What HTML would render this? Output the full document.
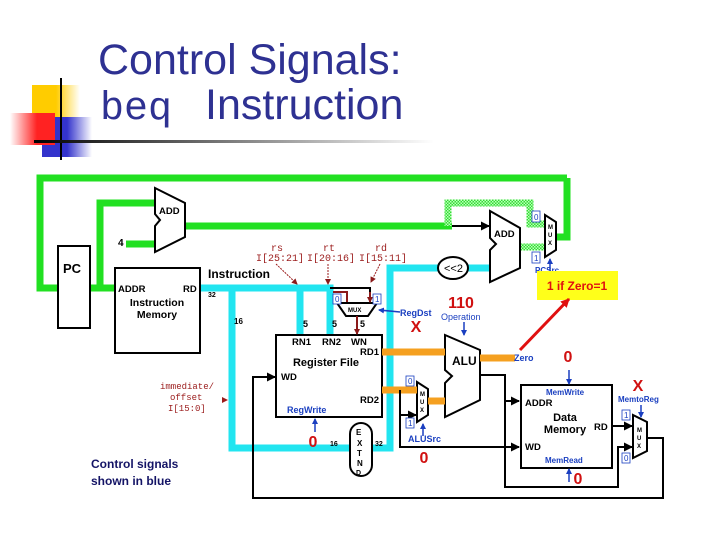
<!DOCTYPE html>
<html><head><meta charset="utf-8"><style>
html,body{margin:0;padding:0;background:#fff;}
svg{display:block;font-family:"Liberation Sans",sans-serif;}
.m{font-family:"Liberation Mono","DejaVu Sans Mono",monospace;}
</style></head><body>
<svg width="720" height="540" viewBox="0 0 720 540" xmlns="http://www.w3.org/2000/svg">
<defs>
<linearGradient id="hl" x1="0" x2="1"><stop offset="0" stop-color="#000"/><stop offset="1" stop-color="#fff"/></linearGradient>
<linearGradient id="rg" x1="0" x2="1"><stop offset="0" stop-color="#fff"/><stop offset="0.6" stop-color="#f22"/></linearGradient>
<linearGradient id="bg" x1="0" x2="1"><stop offset="0.5" stop-color="#33c"/><stop offset="1" stop-color="#fff"/></linearGradient>
<linearGradient id="yg" x1="0" x2="1"><stop offset="0.5" stop-color="#fc0"/><stop offset="1" stop-color="#fff"/></linearGradient>
<pattern id="chk" width="3" height="3" patternUnits="userSpaceOnUse"><rect width="3" height="3" fill="#3d3"/><rect width="1.5" height="1.5" fill="#bfb"/><rect x="1.5" y="1.5" width="1.5" height="1.5" fill="#bfb"/></pattern>
<marker id="ab" markerUnits="userSpaceOnUse" markerWidth="9" markerHeight="9" refX="8" refY="4.5" orient="auto"><path d="M0,0 L9,4.5 L0,9z" fill="#000"/></marker>
<marker id="abl" markerUnits="userSpaceOnUse" markerWidth="6" markerHeight="6" refX="5" refY="3" orient="auto"><path d="M0,0 L6,3 L0,6z" fill="#1a3fc0"/></marker>
<marker id="ar" markerUnits="userSpaceOnUse" markerWidth="6" markerHeight="6" refX="5" refY="3" orient="auto"><path d="M0,0 L6,3 L0,6z" fill="#8b1a1a"/></marker>
<marker id="arr" markerUnits="userSpaceOnUse" markerWidth="9" markerHeight="9" refX="8" refY="4.5" orient="auto"><path d="M0,0 L9,4.5 L0,9z" fill="#e01010"/></marker>
</defs>
<rect x="32" y="85" width="48" height="34" fill="url(#yg)"/>
<rect x="42" y="117" width="50" height="40" fill="url(#bg)"/>
<rect x="10" y="113" width="45" height="32" fill="url(#rg)"/>
<line x1="61" y1="78" x2="61" y2="160" stroke="#000" stroke-width="2"/>
<rect x="34" y="140" width="400" height="3" fill="url(#hl)"/>
<text x="98" y="74" font-size="43" fill="#2e3192">Control Signals:</text>
<text x="100" y="119" font-size="40" class="m" fill="#2e3192">beq</text>
<text x="205" y="119" font-size="43" fill="#2e3192">Instruction</text>

<g stroke="#22e022" stroke-width="7" fill="none">
<path d="M567,178 H40 V288 H58"/>
<path d="M90,288 H115 M100,288 V203 H155"/>
<path d="M126,244 H155"/>
<path d="M185,226 H452"/>
<path d="M556,237 H567 V178"/>
</g>
<path d="M448,226 V203 H530 V224 H545 M520,247 H545" stroke="url(#chk)" stroke-width="7" fill="none"/>
<line x1="452" y1="226" x2="489" y2="226" stroke="#000" stroke-width="2" marker-end="url(#ab)"/>

<g stroke="#22e5f0" stroke-width="7" fill="none">
<path d="M200,288 H330 V335 M300,288 V335"/>
<path d="M232,288 V448 H350 M372,448 H390 V268 H438 M468,268 H490"/>
</g>

<g stroke="#000" stroke-width="2" fill="#fff">
<rect x="58" y="246" width="32" height="82"/>
<rect x="115" y="268" width="85" height="85"/>
<path d="M155,188 L185,203 L185,237 L155,252 L155,226 L160,220 L155,214 Z"/>
<path d="M490,211 L520,228 L520,268 L490,282 L490,250 L496,244 L490,238 Z"/>
<path d="M545,215 L556,222 L556,250 L545,257 Z"/>
<ellipse cx="453" cy="268" rx="15" ry="11"/>
<rect x="276" y="335" width="106" height="82"/>
<rect x="521" y="385" width="91" height="83"/>
<rect x="350" y="423" width="22" height="53" rx="11"/>
<path d="M417,382 L428,389 L428,415 L417,422 Z"/>
<path d="M633,415 L647,422 L647,451 L633,458 Z"/>
<path d="M337,303 H377 L368,316 H346 Z"/>
</g>
<g stroke="#000" stroke-width="2" fill="#fff"><path d="M445,335 L480,350 L480,400 L445,417 L445,383 L452,376 L445,370 Z"/></g>

<g stroke="#f5a020" stroke-width="7" fill="none">
<path d="M382,352 H445 M382,390 H417 M428,401 H445 M480,358 H515"/>
</g>

<g stroke="#000" stroke-width="2" fill="none">
<path d="M400,390 V447 H519" marker-end="url(#ab)"/>
<path d="M400,415 H416" marker-end="url(#ab)"/>
<path d="M480,375 H505 V487 H618 V447 H632" marker-end="url(#ab)"/>
<path d="M505,401 H519" marker-end="url(#ab)"/>
<path d="M612,426 H632" marker-end="url(#ab)"/>
<path d="M647,438 H663 V498 H253 V377 H275" marker-end="url(#ab)"/>
<path d="M330,288 H370 V303"/>
<path d="M333,292 H347 V302" stroke="#8b1a1a"/>
</g>
<line x1="370" y1="292" x2="370" y2="302" stroke="#8b1a1a" stroke-width="2" marker-end="url(#ar)"/>
<line x1="357" y1="316" x2="357" y2="334" stroke="#8b1a1a" stroke-width="2" marker-end="url(#ar)"/>

<g fill="#9b1c1c" font-size="10" class="m">
<text x="271" y="251">rs</text><text x="256" y="261">I[25:21]</text>
<text x="323" y="251">rt</text><text x="307" y="261">I[20:16]</text>
<text x="375" y="251">rd</text><text x="359" y="261">I[15:11]</text>
<text x="160" y="389" font-size="9">immediate/</text>
<text x="170" y="400" font-size="9">offset</text>
<text x="168" y="411" font-size="9">I[15:0]</text>
</g>
<g stroke="#9b1c1c" stroke-width="1" stroke-dasharray="2,1" fill="none">
<line x1="276" y1="264" x2="297" y2="284" marker-end="url(#ar)"/>
<line x1="328" y1="264" x2="328" y2="284" marker-end="url(#ar)"/>
<line x1="380" y1="264" x2="371" y2="282" marker-end="url(#ar)"/>
</g>
<path d="M222,397 L228,400 L222,403z" fill="#9b1c1c"/>

<g font-size="9.5" font-weight="bold" fill="#000">
<text x="63" y="273" font-size="13">PC</text>
<text x="159" y="214">ADD</text>
<text x="494" y="237">ADD</text>
<text x="118" y="246" font-size="10">4</text>
<text x="118" y="292">ADDR</text><text x="183" y="292">RD</text>
<text x="157" y="306" text-anchor="middle" font-size="10.5">Instruction</text>
<text x="157" y="318" text-anchor="middle" font-size="10.5">Memory</text>
<text x="208" y="278" font-size="12">Instruction</text>
<text x="208" y="297" font-size="7">32</text>
<text x="234" y="324" font-size="8">16</text>
<text x="303" y="327" font-size="9">5</text><text x="332" y="327" font-size="9">5</text><text x="360" y="327" font-size="9">5</text>
<text x="292" y="345">RN1</text><text x="322" y="345">RN2</text><text x="351" y="345">WN</text>
<text x="360" y="355">RD1</text>
<text x="326" y="366" text-anchor="middle" font-size="11">Register File</text>
<text x="281" y="380">WD</text>
<text x="360" y="403">RD2</text>
<text x="452" y="365" font-size="12">ALU</text>
<text x="444" y="272" font-size="11" font-weight="normal">&lt;&lt;2</text>
<text x="525" y="406">ADDR</text>
<text x="565" y="421" text-anchor="middle" font-size="11">Data</text>
<text x="565" y="433" text-anchor="middle" font-size="11">Memory</text>
<text x="594" y="430">RD</text>
<text x="525" y="450">WD</text>
<text x="330" y="446" font-size="7">16</text><text x="375" y="446" font-size="7">32</text>
<text x="356" y="435" font-size="8">E</text><text x="357" y="446" font-size="8">X</text><text x="357" y="456" font-size="8">T</text><text x="357" y="466" font-size="8">N</text><text x="356" y="475" font-size="7">D</text>
<text x="348" y="312" font-size="6">MUX</text>
<text x="548" y="229" font-size="6">M</text><text x="548" y="237" font-size="6">U</text><text x="548" y="245" font-size="6">X</text>
<text x="420" y="396" font-size="6">M</text><text x="420" y="404" font-size="6">U</text><text x="420" y="412" font-size="6">X</text>
<text x="637" y="432" font-size="6">M</text><text x="637" y="440" font-size="6">U</text><text x="637" y="448" font-size="6">X</text>
</g>
<g font-size="8" fill="#1a3fc0" stroke="#1a3fc0" stroke-width="0.8">
<rect x="532" y="211" width="8" height="11" fill="#fff"/><rect x="532" y="252" width="8" height="11" fill="#fff"/>
<rect x="333" y="294" width="8" height="10" fill="#fff"/><rect x="373" y="294" width="8" height="10" fill="#fff"/>
<rect x="406" y="376" width="8" height="10" fill="#fff"/><rect x="406" y="418" width="8" height="10" fill="#fff"/>
<rect x="622" y="410" width="8" height="10" fill="#fff"/><rect x="622" y="453" width="8" height="10" fill="#fff"/>
</g>
<g font-size="8" fill="#1a3fc0">
<text x="534" y="220">0</text><text x="534" y="261">1</text>
<text x="335" y="302">0</text><text x="375" y="302">1</text>
<text x="408" y="384">0</text><text x="408" y="426">1</text>
<text x="624" y="418">1</text><text x="624" y="461">0</text>
</g>

<g stroke="#1a3fc0" stroke-width="1.5" fill="none">
<line x1="550" y1="272" x2="550" y2="259" marker-end="url(#abl)"/>
<line x1="400" y1="312" x2="379" y2="310" marker-end="url(#abl)"/>
<line x1="464" y1="322" x2="464" y2="335" marker-end="url(#abl)"/>
<line x1="315" y1="432" x2="315" y2="419" marker-end="url(#abl)"/>
<line x1="423" y1="436" x2="423" y2="424" marker-end="url(#abl)"/>
<line x1="569" y1="370" x2="569" y2="384" marker-end="url(#abl)"/>
<line x1="569" y1="482" x2="569" y2="469" marker-end="url(#abl)"/>
<line x1="641" y1="405" x2="641" y2="417" marker-end="url(#abl)"/>
</g>
<g fill="#1a3fc0" font-size="9" font-weight="bold">
<text x="400" y="316">RegDst</text>
<text x="441" y="320" font-weight="normal">Operation</text>
<text x="514" y="361">Zero</text>
<text x="287" y="413">RegWrite</text>
<text x="408" y="442">ALUSrc</text>
<text x="546" y="395" font-size="8">MemWrite</text>
<text x="545" y="463" font-size="8">MemRead</text>
<text x="618" y="402" font-size="8">MemtoReg</text>
<text x="535" y="273" font-size="8">PCSrc</text>
</g>

<rect x="537" y="271" width="81" height="29" fill="#ffff1a"/>
<text x="577" y="290" text-anchor="middle" font-size="12" font-weight="bold" fill="#e01010">1 if Zero=1</text>
<line x1="520" y1="350" x2="569" y2="299" stroke="#e01010" stroke-width="3" marker-end="url(#arr)"/>

<g fill="#d01010" font-weight="bold" font-size="16" text-anchor="middle">
<text x="461" y="308">110</text>
<text x="416" y="332">X</text>
<text x="568" y="362">0</text>
<text x="638" y="391">X</text>
<text x="313" y="447">0</text>
<text x="424" y="463">0</text>
<text x="578" y="484">0</text>
</g>

<text x="91" y="468" font-size="12" font-weight="bold" fill="#141466">Control signals</text>
<text x="91" y="485" font-size="12" font-weight="bold" fill="#141466">shown in blue</text>
</svg>
</body></html>
